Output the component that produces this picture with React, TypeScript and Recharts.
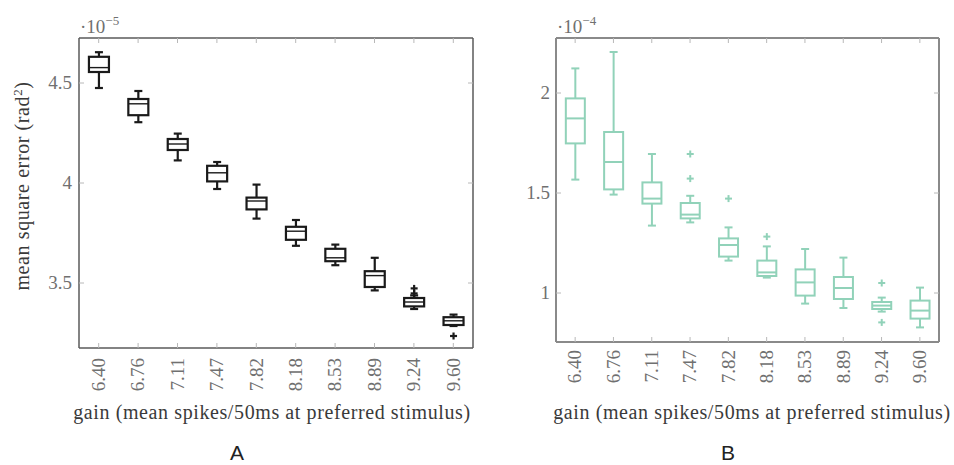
import { ComposedChart, Bar, XAxis, YAxis } from "recharts";

const GAINS = ["6.40", "6.76", "7.11", "7.47", "7.82", "8.18", "8.53", "8.89", "9.24", "9.60"];

// panel A, values in units of 1e-5 rad^2
const A_LOW = [4.475, 4.304, 4.113, 3.97, 3.822, 3.686, 3.589, 3.463, 3.37, 3.285];
const A_Q1 = [4.555, 4.339, 4.165, 4.008, 3.868, 3.716, 3.609, 3.48, 3.383, 3.29];
const A_MED = [4.577, 4.396, 4.195, 4.051, 3.91, 3.759, 3.626, 3.537, 3.405, 3.311];
const A_Q3 = [4.631, 4.42, 4.22, 4.086, 3.927, 3.781, 3.671, 3.559, 3.425, 3.329];
const A_HIGH = [4.654, 4.46, 4.247, 4.105, 3.992, 3.815, 3.692, 3.626, 3.438, 3.342];
const A_OUTLIERS: number[][] = [[], [], [], [], [], [], [], [], [3.473, 3.448], [3.235]];
const A_TICKS = [3.5, 4, 4.5];

// panel B, values in units of 1e-4 rad^2
const B_LOW = [1.567, 1.492, 1.337, 1.353, 1.162, 1.077, 0.947, 0.925, 0.907, 0.828];
const B_Q1 = [1.748, 1.518, 1.447, 1.373, 1.182, 1.085, 0.987, 0.97, 0.92, 0.872];
const B_MED = [1.873, 1.655, 1.472, 1.392, 1.24, 1.103, 1.053, 1.025, 0.937, 0.912];
const B_Q3 = [1.973, 1.805, 1.553, 1.45, 1.273, 1.162, 1.118, 1.08, 0.955, 0.962];
const B_HIGH = [2.123, 2.205, 1.695, 1.486, 1.328, 1.233, 1.22, 1.177, 0.977, 1.027];
const B_OUTLIERS: number[][] = [[], [], [], [1.695, 1.572], [1.472], [1.282], [], [], [1.05, 0.853], []];
const B_TICKS = [1, 1.5, 2];

const SERIF = '"Liberation Serif", "DejaVu Serif", serif';
const TICK = "#b8b8b8";
const LABEL = "#707070";

type Row = {
  gain: string;
  range: [number, number];
  q1: number;
  median: number;
  q3: number;
  outliers: number[];
};

const makeRows = (
  low: number[],
  q1: number[],
  med: number[],
  q3: number[],
  high: number[],
  out: number[][]
): Row[] =>
  GAINS.map((gain, i) => ({
    gain,
    range: [low[i], high[i]],
    q1: q1[i],
    median: med[i],
    q3: q3[i],
    outliers: out[i],
  }));

const rowsA = makeRows(A_LOW, A_Q1, A_MED, A_Q3, A_HIGH, A_OUTLIERS);
const rowsB = makeRows(B_LOW, B_Q1, B_MED, B_Q3, B_HIGH, B_OUTLIERS);

type Look = { color: string; width: number; medianWidth: number; boxWidth: number };

// the bar spans whisker-to-whisker, so its rect gives the pixel scale for the rest
function BoxGlyph({ x, y, width, height, payload, look }: any) {
  const [lo, hi] = payload.range;
  const top = Math.min(y, y + height);
  const perUnit = Math.abs(height) / (hi - lo);
  const py = (v: number) => top + (hi - v) * perUnit;
  const cx = x + width / 2;
  const half = look.boxWidth / 2;
  const cap = 4;
  return (
    <g stroke={look.color} strokeWidth={look.width} fill="none">
      <line x1={cx} x2={cx} y1={py(hi)} y2={py(payload.q3)} />
      <line x1={cx} x2={cx} y1={py(payload.q1)} y2={py(lo)} />
      <line x1={cx - cap} x2={cx + cap} y1={py(hi)} y2={py(hi)} />
      <line x1={cx - cap} x2={cx + cap} y1={py(lo)} y2={py(lo)} />
      <rect
        x={cx - half}
        y={py(payload.q3)}
        width={look.boxWidth}
        height={py(payload.q1) - py(payload.q3)}
        fill="#fff"
      />
      <line
        x1={cx - half}
        x2={cx + half}
        y1={py(payload.median)}
        y2={py(payload.median)}
        strokeWidth={look.medianWidth}
      />
      {payload.outliers.map((v: number, k: number) => (
        <g key={k}>
          <line x1={cx - 3.5} x2={cx + 3.5} y1={py(v)} y2={py(v)} />
          <line x1={cx} x2={cx} y1={py(v) - 3.5} y2={py(v) + 3.5} />
        </g>
      ))}
    </g>
  );
}

const BottomTick = ({ x, y, payload, gap }: any) => (
  <g>
    <line x1={x} x2={x} y1={y} y2={y - 5} stroke={TICK} />
    <text
      transform={`translate(${x},${y + gap}) rotate(-90)`}
      textAnchor="end"
      dy="0.33em"
      fontFamily={SERIF}
      fontSize={19}
      fill={LABEL}
    >
      {payload.value}
    </text>
  </g>
);

const TopTick = ({ x, y }: any) => <line x1={x} x2={x} y1={y} y2={y + 5} stroke={TICK} />;

const LeftTick = ({ x, y, payload, gap }: any) => (
  <g>
    <line x1={x} x2={x + 5} y1={y} y2={y} stroke={TICK} />
    <text x={x - gap} y={y} dy="0.33em" textAnchor="end" fontFamily={SERIF} fontSize={19} fill={LABEL}>
      {payload.value}
    </text>
  </g>
);

const RightTick = ({ x, y }: any) => <line x1={x} x2={x - 5} y1={y} y2={y} stroke={TICK} />;

type PanelProps = {
  rows: Row[];
  domain: [number, number];
  ticks: number[];
  look: Look;
  frame: string;
  frameWidth: number;
  width: number;
  margin: { top: number; right: number; bottom: number; left: number };
  xGap: number;
  yGap: number;
};

function Panel({ rows, domain, ticks, look, frame, frameWidth, width, margin, xGap, yGap }: PanelProps) {
  const axisLine = { stroke: frame, strokeWidth: frameWidth };
  return (
    <ComposedChart width={width} height={465} data={rows} margin={margin}>
      <XAxis
        xAxisId="b"
        dataKey="gain"
        orientation="bottom"
        height={60}
        interval={0}
        tickSize={0}
        tickMargin={0}
        tickLine={false}
        axisLine={axisLine}
        tick={(p: any) => <BottomTick {...p} gap={xGap} />}
      />
      <XAxis
        xAxisId="t"
        dataKey="gain"
        orientation="top"
        height={1}
        interval={0}
        tickSize={0}
        tickMargin={0}
        tickLine={false}
        axisLine={axisLine}
        tick={(p: any) => <TopTick {...p} />}
      />
      <YAxis
        yAxisId="l"
        type="number"
        domain={domain}
        ticks={ticks}
        allowDataOverflow
        width={40}
        interval={0}
        tickSize={0}
        tickMargin={0}
        tickLine={false}
        axisLine={axisLine}
        tick={(p: any) => <LeftTick {...p} gap={yGap} />}
      />
      <YAxis
        yAxisId="r"
        orientation="right"
        type="number"
        domain={domain}
        ticks={ticks}
        allowDataOverflow
        width={1}
        interval={0}
        tickSize={0}
        tickMargin={0}
        tickLine={false}
        axisLine={axisLine}
        tick={(p: any) => <RightTick {...p} />}
      />
      <Bar
        xAxisId="b"
        yAxisId="l"
        dataKey="range"
        isAnimationActive={false}
        shape={(p: any) => <BoxGlyph {...p} look={look} />}
      />
    </ComposedChart>
  );
}

const TITLE = "gain (mean spikes/50ms at preferred stimulus)";

export default function App() {
  return (
    <div style={{ position: "absolute", left: 0, top: 0, width: 954, height: 465, background: "#fff" }}>
      <div style={{ position: "absolute", left: 0, top: 0 }}>
        <Panel
          rows={rowsA}
          domain={[3.175, 4.725]}
          ticks={A_TICKS}
          look={{ color: "#1a1a1a", width: 2.2, medianWidth: 1.4, boxWidth: 20 }}
          frame="#5a5a5a"
          frameWidth={1.5}
          width={480}
          margin={{ top: 37, right: 6, bottom: 57, left: 39 }}
          xGap={10}
          yGap={7}
        />
      </div>
      <div style={{ position: "absolute", left: 480, top: 0 }}>
        <Panel
          rows={rowsB}
          domain={[0.755, 2.275]}
          ticks={B_TICKS}
          look={{ color: "#91d2b9", width: 2, medianWidth: 2, boxWidth: 19 }}
          frame="#8a8a8a"
          frameWidth={2}
          width={474}
          margin={{ top: 37, right: 14, bottom: 63, left: 36 }}
          xGap={8}
          yGap={6}
        />
      </div>
      <svg
        width={954}
        height={465}
        style={{ position: "absolute", left: 0, top: 0, pointerEvents: "none" }}
      >
        <g fontFamily={SERIF} fill="#3a3a3a" fontSize={20} letterSpacing={0.6}>
          <text transform="translate(29,186) rotate(-90)" textAnchor="middle">
            mean square error (rad<tspan dy={-7} fontSize={13}>2</tspan>
            <tspan dy={7}>)</tspan>
          </text>
          <text x={272} y={419} textAnchor="middle">
            {TITLE}
          </text>
          <text x={752} y={419} textAnchor="middle">
            {TITLE}
          </text>
        </g>
        <text x={80} y={33} fontFamily={SERIF} fill={LABEL} fontSize={19}>
          ·10
          <tspan dy={-8} fontSize={13}>
            −5
          </tspan>
        </text>
        <text x={557} y={33} fontFamily={SERIF} fill={LABEL} fontSize={19}>
          ·10
          <tspan dy={-8} fontSize={13}>
            −4
          </tspan>
        </text>
        <g fontFamily='"Liberation Sans", Arial, sans-serif' fill="#222" fontSize={21}>
          <text x={237} y={460} textAnchor="middle">
            A
          </text>
          <text x={728} y={460} textAnchor="middle">
            B
          </text>
        </g>
      </svg>
    </div>
  );
}
